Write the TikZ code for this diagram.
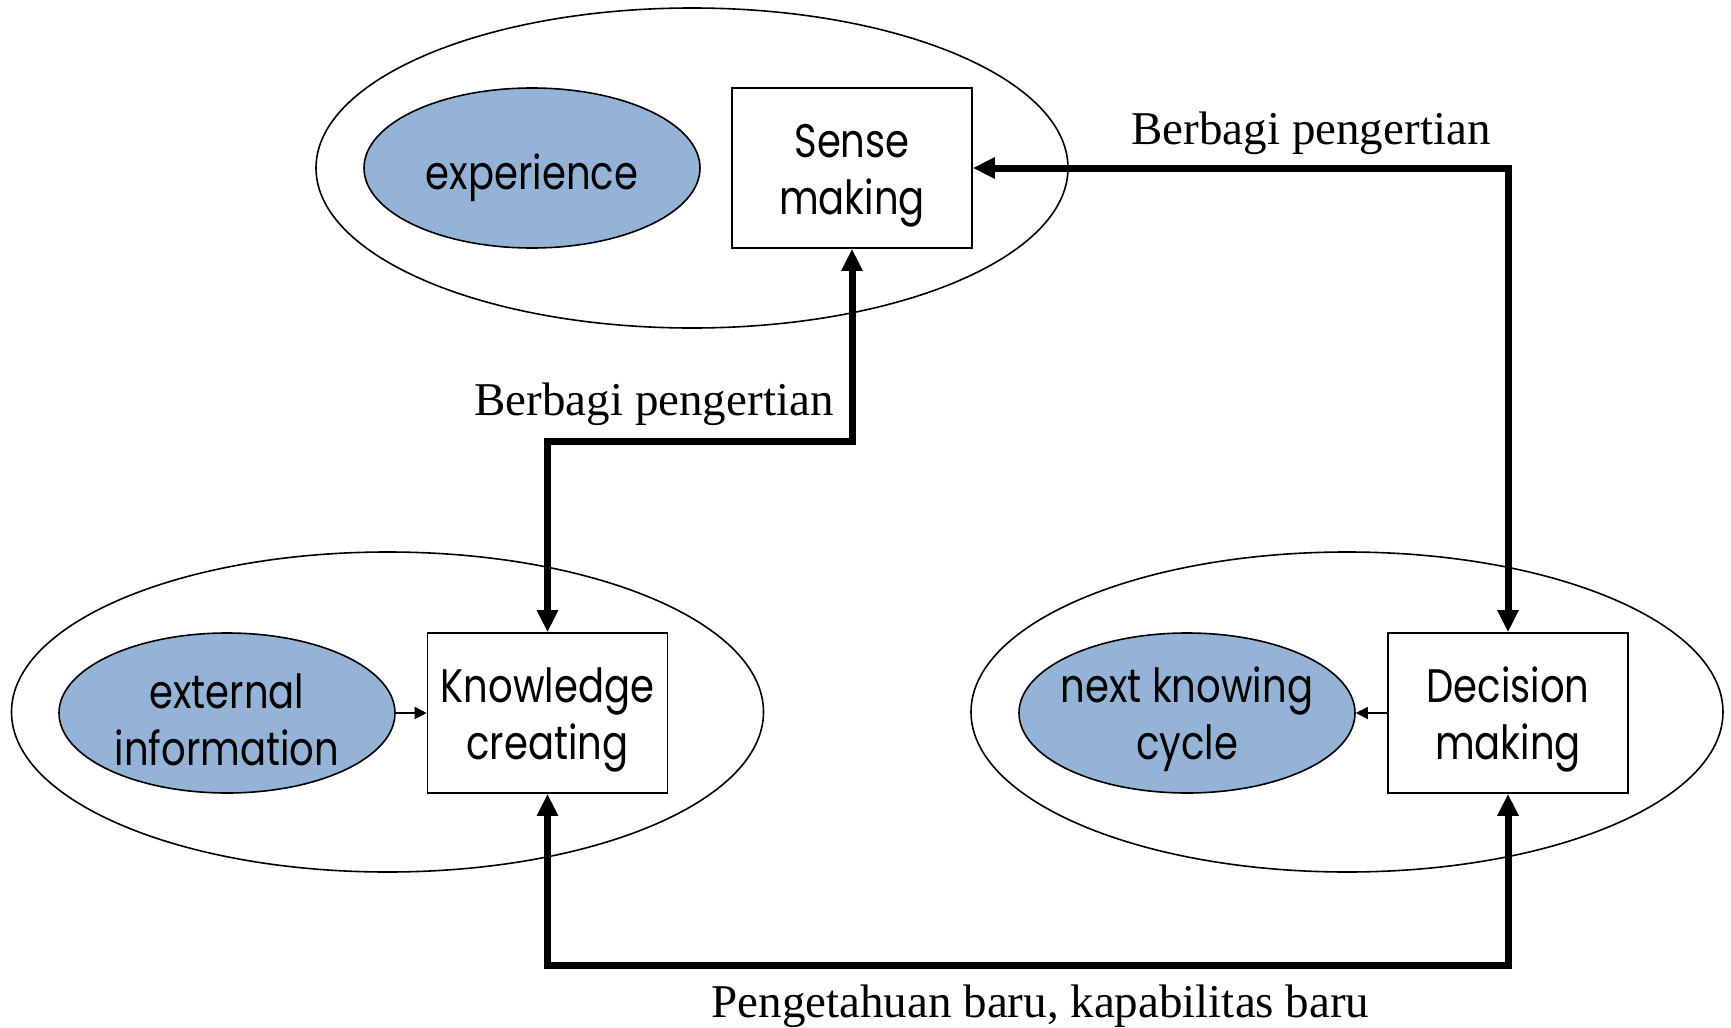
\documentclass[tikz,border=0pt]{standalone}
\usepackage{fontspec}
\setmainfont{Liberation Serif}
\newfontfamily\boxfont[FakeStretch=0.82]{Poppins}
\usetikzlibrary{arrows.meta,shapes.geometric}
\definecolor{fillblue}{RGB}{149,179,215}
\begin{document}
\begin{tikzpicture}[x=0.5pt,y=-0.5pt,
  outer/.style={line width=0.8pt},
  inner/.style={draw, line width=0.8pt, ellipse, fill=fillblue, minimum width=168pt, minimum height=80pt, inner sep=-20pt, text height=53pt, align=center, font=\boxfont\fontsize{23.5pt}{28.5pt}\selectfont},
  stepbox/.style={draw, line width=0.8pt, fill=white, minimum width=120pt, minimum height=80pt, inner sep=0pt, text height=53pt, align=center, font=\boxfont\fontsize{23.5pt}{28.5pt}\selectfont},
  link/.style={line width=3.5pt, {Triangle[length=11pt,width=10pt]}-{Triangle[length=11pt,width=10pt]}},
  small/.style={line width=1pt, -{Triangle[length=6pt,width=6pt]}},
  lbl/.style={font=\fontsize{23.5pt}{28pt}\selectfont, inner sep=0pt}
]
\useasboundingbox (0,0) rectangle (1731,1028);
% outer ellipses
\draw[outer] (692,168) ellipse [x radius=188pt, y radius=80pt];
\draw[outer] (387.5,712) ellipse [x radius=188pt, y radius=80pt];
\draw[outer] (1347,712) ellipse [x radius=188pt, y radius=80pt];
% inner nodes
\node[inner, text height=28pt] (exp) at (532,168) {experience};
\node[stepbox] (sense) at (852,168) {Sense\\making};
\node[inner] (ext) at (227,713) {external\\information};
\node[stepbox] (know) at (547.5,713) {Knowledge\\creating};
\node[inner] (next) at (1187,713) {next knowing\\cycle};
\node[stepbox] (dec) at (1508,713) {Decision\\making};
% small arrows
\draw[small] (ext.east) -- (know.west);
\draw[small] (dec.west) -- (next.east);
% thick connectors
\draw[link] (sense.south) -- (sense.south |- 0,441.6) -| (know.north);
\draw[link] (sense.east) -| (dec.north);
\draw[link] (know.south) -- (know.south |- 0,965) -| (dec.south);
% labels
\node[lbl] (l1) at (1311,133.5) {Berbagi pengertian};
\node[lbl] (l2) at (654,404.5) {Berbagi pengertian};
\node[lbl] (l3) at (1040.5,1006.5) {Pengetahuan baru, kapabilitas baru};
\end{tikzpicture}
\end{document}
